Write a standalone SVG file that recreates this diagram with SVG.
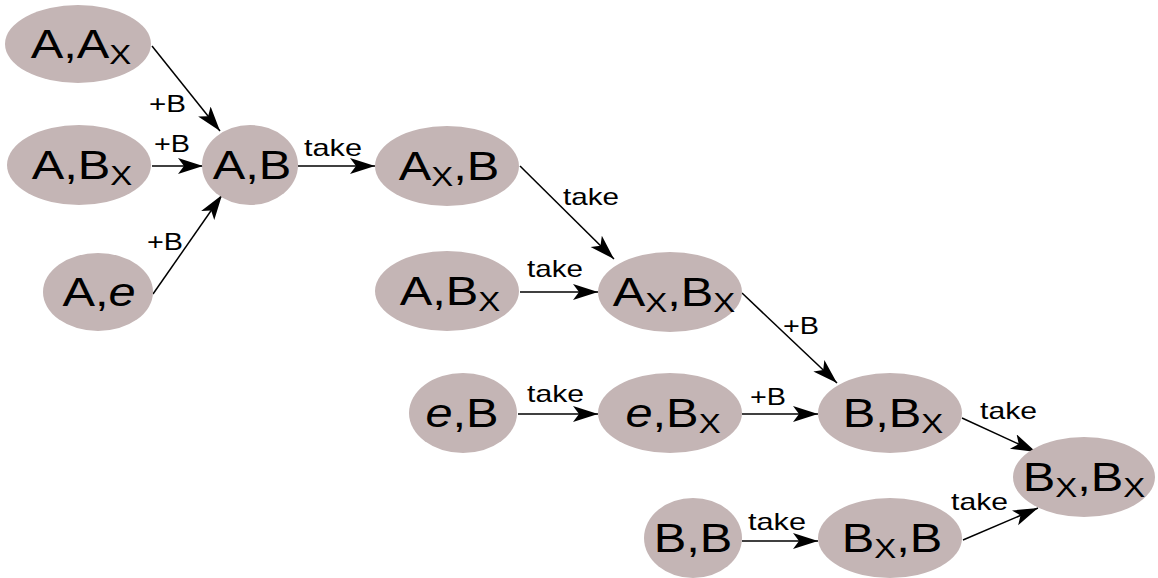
<svg xmlns="http://www.w3.org/2000/svg" width="1158" height="578" viewBox="0 0 1158 578">
<style>
.node ellipse { fill: #c4b5b5; stroke: none; }
.node text { font-family: "Liberation Sans", Arial, sans-serif; font-size: 40px; fill: #000; text-anchor: middle; }
.sub { font-size: 27px; }
.edges line { stroke: #000; stroke-width: 1.5; fill: none; marker-end: url(#arr); }
.lbl { font-family: "Liberation Sans", Arial, sans-serif; font-size: 24px; fill: #000; }
</style>
<defs>
<marker id="arr" markerUnits="userSpaceOnUse" markerWidth="28" markerHeight="18" refX="25" refY="8" orient="auto">
<path d="M0,0 L25,8 L0,16 L6,8 Z" fill="#000"/>
</marker>
</defs>
<rect width="1158" height="578" fill="#fff"/>
<g class="edges">
<line x1="152" y1="46" x2="220" y2="131"/>
<line x1="152" y1="166" x2="203" y2="166"/>
<line x1="153" y1="294" x2="222" y2="195"/>
<line x1="298" y1="166" x2="375" y2="166"/>
<line x1="520" y1="166" x2="614" y2="259"/>
<line x1="520" y1="292" x2="598" y2="292"/>
<line x1="742" y1="293" x2="837" y2="383"/>
<line x1="518" y1="414" x2="598" y2="414"/>
<line x1="742" y1="414" x2="818" y2="414"/>
<line x1="962" y1="418" x2="1036" y2="452"/>
<line x1="742" y1="541" x2="818" y2="541"/>
<line x1="963" y1="540" x2="1038" y2="508"/>
</g>
<g class="labels">
<text class="lbl" x="149" y="112" textLength="37" lengthAdjust="spacingAndGlyphs">+B</text>
<text class="lbl" x="154" y="152" textLength="36" lengthAdjust="spacingAndGlyphs">+B</text>
<text class="lbl" x="147" y="250" textLength="36" lengthAdjust="spacingAndGlyphs">+B</text>
<text class="lbl" x="304" y="156" textLength="58" lengthAdjust="spacingAndGlyphs">take</text>
<text class="lbl" x="563" y="205" textLength="56" lengthAdjust="spacingAndGlyphs">take</text>
<text class="lbl" x="527" y="277" textLength="56" lengthAdjust="spacingAndGlyphs">take</text>
<text class="lbl" x="783" y="334" textLength="36" lengthAdjust="spacingAndGlyphs">+B</text>
<text class="lbl" x="527" y="402" textLength="57" lengthAdjust="spacingAndGlyphs">take</text>
<text class="lbl" x="750" y="405" textLength="36" lengthAdjust="spacingAndGlyphs">+B</text>
<text class="lbl" x="980" y="419" textLength="57" lengthAdjust="spacingAndGlyphs">take</text>
<text class="lbl" x="748" y="530" textLength="58" lengthAdjust="spacingAndGlyphs">take</text>
<text class="lbl" x="951" y="510" textLength="57" lengthAdjust="spacingAndGlyphs">take</text>
</g>
<g id="n-A-Ax" class="node"><ellipse cx="78" cy="44" rx="73" ry="39"/><text transform="translate(81,58) scale(1.22,1)">A,A<tspan class="sub" dy="6">X</tspan></text></g>
<g id="n-A-Bx" class="node"><ellipse cx="79" cy="165" rx="72" ry="40"/><text transform="translate(82,179) scale(1.22,1)">A,B<tspan class="sub" dy="6">X</tspan></text></g>
<g id="n-A-B" class="node"><ellipse cx="250" cy="165" rx="48" ry="40"/><text transform="translate(252,179) scale(1.22,1)">A,B</text></g>
<g id="n-A-e" class="node"><ellipse cx="98" cy="292" rx="55" ry="39"/><text transform="translate(99,306) scale(1.22,1)">A,<tspan font-style="italic">e</tspan></text></g>
<g id="n-Ax-B" class="node"><ellipse cx="447" cy="166" rx="72" ry="40"/><text transform="translate(449,180) scale(1.22,1)">A<tspan class="sub" dy="6">X</tspan><tspan dy="-6">,B</tspan></text></g>
<g id="n-A-Bx-2" class="node"><ellipse cx="447" cy="291" rx="72" ry="40"/><text transform="translate(450,305) scale(1.22,1)">A,B<tspan class="sub" dy="6">X</tspan></text></g>
<g id="n-Ax-Bx" class="node"><ellipse cx="670" cy="292" rx="72" ry="40"/><text transform="translate(674,306) scale(1.22,1)">A<tspan class="sub" dy="6">X</tspan><tspan dy="-6">,B</tspan><tspan class="sub" dy="6">X</tspan></text></g>
<g id="n-e-B" class="node"><ellipse cx="463" cy="413" rx="54" ry="40"/><text transform="translate(462,427) scale(1.22,1)"><tspan font-style="italic">e</tspan>,B</text></g>
<g id="n-e-Bx" class="node"><ellipse cx="670" cy="413" rx="72" ry="40"/><text transform="translate(673,427) scale(1.22,1)"><tspan font-style="italic">e</tspan>,B<tspan class="sub" dy="6">X</tspan></text></g>
<g id="n-B-Bx" class="node"><ellipse cx="890" cy="413" rx="72" ry="40"/><text transform="translate(893,427) scale(1.22,1)">B,B<tspan class="sub" dy="6">X</tspan></text></g>
<g id="n-Bx-Bx" class="node"><ellipse cx="1084" cy="477" rx="71" ry="40"/><text transform="translate(1084,491) scale(1.22,1)">B<tspan class="sub" dy="6">X</tspan><tspan dy="-6">,B</tspan><tspan class="sub" dy="6">X</tspan></text></g>
<g id="n-B-B" class="node"><ellipse cx="693" cy="538" rx="49" ry="40"/><text transform="translate(693,552) scale(1.22,1)">B,B</text></g>
<g id="n-Bx-B" class="node"><ellipse cx="890" cy="538" rx="72" ry="40"/><text transform="translate(892,552) scale(1.22,1)">B<tspan class="sub" dy="6">X</tspan><tspan dy="-6">,B</tspan></text></g>
</svg>
